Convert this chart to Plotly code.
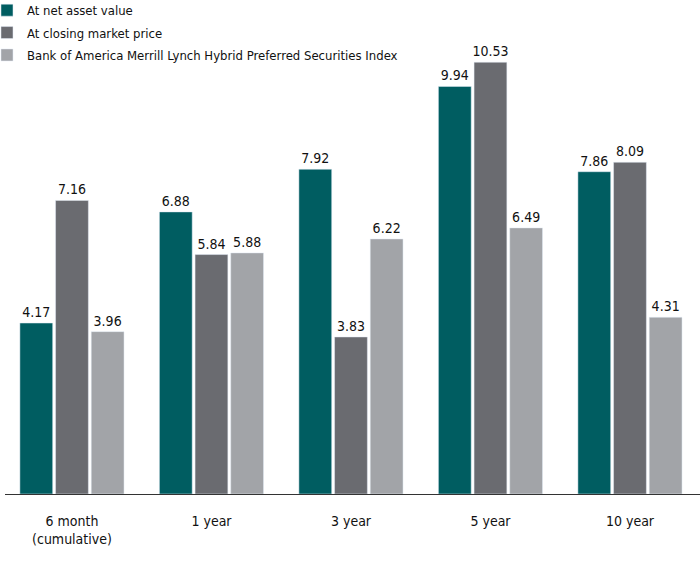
import plotly.graph_objects as go

categories = ["6 month<br>(cumulative)", "1 year", "3 year", "5 year", "10 year"]
nav = [4.17, 6.88, 7.92, 9.94, 7.86]
market = [7.16, 5.84, 3.83, 10.53, 8.09]
index_vals = [3.96, 5.88, 6.22, 6.49, 4.31]
series_names = ["At net asset value", "At closing market price",
                "Bank of America Merrill Lynch Hybrid Preferred Securities Index"]
colors = ["#005d61", "#6a6b70", "#a2a4a8"]

font_family = "DejaVu Sans Condensed, sans-serif"

fig = go.Figure()
x = list(range(len(categories)))
for i, (name, vals, c) in enumerate(zip(series_names, [nav, market, index_vals], colors)):
    fig.add_trace(go.Bar(
        x=x, y=vals, name=name, marker_color=c, legendgroup=f"g{i}",
        text=[f"{v:.2f}" for v in vals], textposition="outside",
        constraintext="none",
        textfont=dict(size=14, color="#111111", family=font_family),
        cliponaxis=False,
    ))

fig.update_layout(
    width=700, height=574,
    margin=dict(l=5, r=0, t=20, b=80, autoexpand=False),
    plot_bgcolor="white", paper_bgcolor="white",
    barmode="group", bargap=0.233, bargroupgap=0.08,
    font=dict(family=font_family, size=14, color="#111111"),
    showlegend=True,
    legend=dict(x=-0.0259, y=1.0523, xanchor="left", yanchor="top",
                font=dict(size=13, family=font_family), tracegroupgap=2.5,
                itemwidth=30, bgcolor="rgba(0,0,0,0)"),
)
fig.update_xaxes(range=[-0.48, 4.502], tickmode="array", tickvals=x, ticktext=categories,
                 showline=True, linecolor="#333333", linewidth=1.2, showgrid=False,
                 ticks="", ticklabelstandoff=14, tickfont=dict(size=14), automargin=False)
fig.update_yaxes(range=[0, 11.56], showticklabels=False, showgrid=False, zeroline=False,
                 showline=False, automargin=False)
fig.write_html("out.html", config={"displayModeBar": False},
               post_script="document.body.style.margin='0';")
